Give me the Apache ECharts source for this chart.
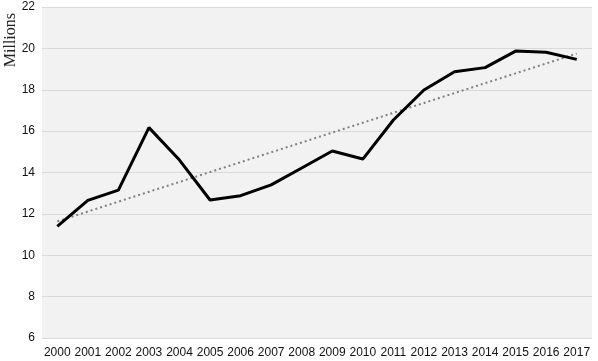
<!DOCTYPE html>
<html><head><meta charset="utf-8">
<script src="https://cdn.jsdelivr.net/npm/echarts@6/dist/echarts.min.js"></script>
<style>html,body{margin:0;padding:0;background:#fff}#c{width:598px;height:361px}</style>
</head><body><div id="c"></div>
<script>
var years = ['2000','2001','2002','2003','2004','2005','2006','2007','2008','2009','2010','2011','2012','2013','2014','2015','2016','2017'];
var values = [11.4,12.65,13.15,16.17,14.6,12.67,12.88,13.4,14.22,15.04,14.65,16.54,17.99,18.87,19.07,19.87,19.81,19.47];
var yTicks = [6,8,10,12,14,16,18,20,22];
var yName = 'Millions';

// linear trend (least squares) from the series values
var n = values.length, sx=0, sy=0, sxy=0, sxx=0;
for (var i=0;i<n;i++){sx+=i;sy+=values[i];sxy+=i*values[i];sxx+=i*i;}
var slope=(n*sxy-sx*sy)/(n*sxx-sx*sx), icpt=(sy-slope*sx)/n;
var trend = values.map(function(_,i){return +(icpt+slope*i).toFixed(3);});

var chart = echarts.init(document.getElementById('c'));
chart.setOption({
  animation:false,
  backgroundColor:'#ffffff',
  grid:{left:42,right:6,top:7,bottom:23,backgroundColor:'#f2f2f2',show:true,borderWidth:0},
  graphic:[{type:'text',left:3,top:13,rotation:Math.PI/2,style:{text:yName,font:'16px "Liberation Serif", serif',fill:'#222'}}],
  xAxis:{type:'category',data:years,boundaryGap:true,
    axisLine:{show:false},axisTick:{show:false},
    axisLabel:{color:'#111',fontSize:12,fontFamily:'"Liberation Sans", sans-serif',margin:9,interval:0}},
  yAxis:{type:'value',min:yTicks[0],max:yTicks[yTicks.length-1],interval:2,
    axisLine:{show:false},axisTick:{show:false},
    axisLabel:{color:'#111',fontSize:12,fontFamily:'"Liberation Sans", sans-serif',margin:7},
    splitLine:{lineStyle:{color:'#d9d9d9',width:1}}},
  series:[
    {type:'line',data:trend,symbol:'none',lineStyle:{color:'#808080',width:2,type:[2,3]},z:2},
    {type:'line',data:values,symbol:'none',lineStyle:{color:'#000',width:3},z:3}
  ]
});
</script></body></html>
